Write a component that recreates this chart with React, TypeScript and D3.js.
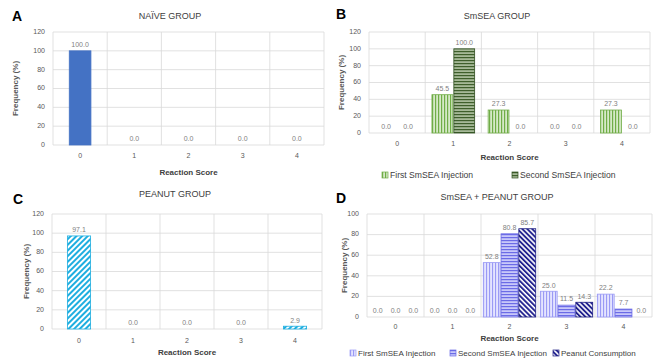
import React from 'react';
import * as d3 from 'd3';

const scores = ['0', '1', '2', '3', '4'];

const naive = [100, 0, 0, 0, 0];
const smseaFirst = [0, 45.5, 27.3, 0, 27.3];
const smseaSecond = [0, 100, 0, 0, 0];
const peanut = [97.1, 0, 0, 0, 2.9];
const comboFirst = [0, 0, 52.8, 25.0, 22.2];
const comboSecond = [0, 0, 80.8, 11.5, 7.7];
const comboPeanut = [0, 0, 85.7, 14.3, 0.0];

const ticks120 = [0, 20, 40, 60, 80, 100, 120];
const ticks100 = [0, 20, 40, 60, 80, 100];

const FONT = 'Liberation Sans, Arial, sans-serif';
const GRID = '#d9d9d9';
const LABEL = '#7f7f7f';

type Series = { name: string; values: number[]; fill: string; stroke: string };

type PanelProps = {
  letter: string;
  title: string;
  letterPos: [number, number];
  titlePos: [number, number];
  box: { x0: number; x1: number; y0: number; y1: number };
  yTicks: number[];
  yTitleX: number;
  tickY: number;
  axisTitleY: number;
  groupFrac: number;
  series: Series[];
  legendY?: number;
  legendX?: number[];
  legendFont?: number;
};

function Panel(p: PanelProps) {
  const { box } = p;
  const x = d3.scaleBand().domain(scores).range([box.x0, box.x1]).padding(0);
  const y = d3.scaleLinear().domain([0, d3.max(p.yTicks) as number]).range([box.y1, box.y0]);
  const bw = x.bandwidth();
  const inner = d3
    .scaleBand()
    .domain(p.series.map((s) => s.name))
    .range([(bw * (1 - p.groupFrac)) / 2, bw - (bw * (1 - p.groupFrac)) / 2])
    .paddingInner(p.series.length > 1 ? 0.05 : 0);
  const midY = (box.y0 + box.y1) / 2;
  return (
    <g fontFamily={FONT}>
      <text x={p.letterPos[0]} y={p.letterPos[1]} fontSize={14} fontWeight="bold" dominantBaseline="middle" fill="#000">
        {p.letter}
      </text>
      <text x={p.titlePos[0]} y={p.titlePos[1]} fontSize={9} textAnchor="middle" dominantBaseline="middle" fill="#404040">
        {p.title}
      </text>
      {p.yTicks.map((t) => (
        <g key={t}>
          <line x1={box.x0} x2={box.x1} y1={y(t)} y2={y(t)} stroke={GRID} strokeWidth={0.8} />
          <text x={box.x0 - 8} y={y(t)} fontSize={7} textAnchor="end" dominantBaseline="middle" fill="#595959">
            {t}
          </text>
        </g>
      ))}
      {[...scores.map((s) => x(s) as number), box.x1].map((v, i) => (
        <line key={i} x1={v} x2={v} y1={box.y0} y2={box.y1} stroke={GRID} strokeWidth={0.8} />
      ))}
      {scores.map((s) => (
        <text key={s} x={(x(s) as number) + bw / 2} y={p.tickY} fontSize={7} textAnchor="middle" dominantBaseline="middle" fill="#595959">
          {s}
        </text>
      ))}
      {p.series.map((se) =>
        se.values.map((v, i) => {
          const bx = (x(scores[i]) as number) + (inner(se.name) as number);
          const w = inner.bandwidth();
          return (
            <g key={se.name + i}>
              {v > 0 && (
                <rect x={bx} y={y(v)} width={w} height={box.y1 - y(v)} fill={se.fill} stroke={se.stroke} strokeWidth={0.8} />
              )}
              <text x={bx + w / 2} y={y(v) - 5.5} fontSize={7} textAnchor="middle" dominantBaseline="middle" fill={LABEL}>
                {v.toFixed(1)}
              </text>
            </g>
          );
        })
      )}
      <text x={(box.x0 + box.x1) / 2} y={p.axisTitleY} fontSize={8} fontWeight="bold" textAnchor="middle" dominantBaseline="middle" fill="#404040">
        Reaction Score
      </text>
      <text
        transform={`translate(${p.yTitleX},${midY}) rotate(-90)`}
        fontSize={8}
        fontWeight="bold"
        textAnchor="middle"
        dominantBaseline="middle"
        fill="#595959"
      >
        Frequency (%)
      </text>
      {p.legendY !== undefined &&
        p.series.map((se, i) => (
          <g key={se.name} transform={`translate(${p.legendX![i]},${p.legendY})`}>
            <rect x={0} y={-3} width={6} height={6} fill={se.fill} stroke={se.stroke} strokeWidth={0.7} />
            <text x={8} y={0.5} fontSize={p.legendFont ?? 8.6} dominantBaseline="middle" fill="#404040">
              {se.name}
            </text>
          </g>
        ))}
    </g>
  );
}

export default function App() {
  return (
    <svg width={659} height={360} style={{ position: 'absolute', left: 0, top: 0, background: '#fff' }}>
      <defs>
        <pattern id="greenV" width={3} height={3} patternUnits="userSpaceOnUse">
          <rect width={3} height={3} fill="#d6e9c8" />
          <rect width={1.2} height={3} fill="#70ad47" />
        </pattern>
        <pattern id="greenH" width={3} height={3} patternUnits="userSpaceOnUse">
          <rect width={3} height={3} fill="#a6b998" />
          <rect width={3} height={1.2} fill="#3f5f2c" />
        </pattern>
        <pattern id="cyanD" width={4} height={4} patternUnits="userSpaceOnUse" patternTransform="rotate(45)">
          <rect width={4} height={4} fill="#ffffff" />
          <rect width={2} height={4} fill="#1eaee0" />
        </pattern>
        <pattern id="lavV" width={3} height={3} patternUnits="userSpaceOnUse">
          <rect width={3} height={3} fill="#e4e4ff" />
          <rect width={1.1} height={3} fill="#9a9af5" />
        </pattern>
        <pattern id="lavH" width={3} height={3} patternUnits="userSpaceOnUse">
          <rect width={3} height={3} fill="#c8c8fa" />
          <rect width={3} height={1.2} fill="#6b6be6" />
        </pattern>
        <pattern id="navyD" width={3.5} height={3.5} patternUnits="userSpaceOnUse" patternTransform="rotate(-45)">
          <rect width={3.5} height={3.5} fill="#ffffff" />
          <rect width={1.9} height={3.5} fill="#23238f" />
        </pattern>
      </defs>
      <Panel
        letter="A"
        title="NAÏVE GROUP"
        letterPos={[12, 17]}
        titlePos={[170, 17]}
        box={{ x0: 53, x1: 324, y0: 32, y1: 145 }}
        yTicks={ticks120}
        yTitleX={16}
        tickY={156}
        axisTitleY={173}
        groupFrac={0.4}
        series={[{ name: 'Naive', values: naive, fill: '#4472c4', stroke: '#4472c4' }]}
      />
      <Panel
        letter="B"
        title="SmSEA GROUP"
        letterPos={[336, 15]}
        titlePos={[497, 17]}
        box={{ x0: 369, x1: 650, y0: 32, y1: 133 }}
        yTicks={ticks120}
        yTitleX={342}
        tickY={144}
        axisTitleY={158}
        groupFrac={0.76}
        series={[
          { name: 'First SmSEA Injection', values: smseaFirst, fill: 'url(#greenV)', stroke: '#70ad47' },
          { name: 'Second SmSEA Injection', values: smseaSecond, fill: 'url(#greenH)', stroke: '#2f4f1f' },
        ]}
        legendY={175}
        legendX={[382, 512]}
      />
      <Panel
        letter="C"
        title="PEANUT GROUP"
        letterPos={[13, 200]}
        titlePos={[175, 195]}
        box={{ x0: 52, x1: 322, y0: 214, y1: 329 }}
        yTicks={ticks120}
        yTitleX={27}
        tickY={341}
        axisTitleY={353}
        groupFrac={0.43}
        series={[{ name: 'Peanut', values: peanut, fill: 'url(#cyanD)', stroke: '#1eaee0' }]}
      />
      <Panel
        letter="D"
        title="SmSEA + PEANUT GROUP"
        letterPos={[336, 199]}
        titlePos={[497, 198]}
        box={{ x0: 367, x1: 652, y0: 214, y1: 317 }}
        yTicks={ticks100}
        yTitleX={345}
        tickY={327}
        axisTitleY={339}
        groupFrac={0.92}
        series={[
          { name: 'First SmSEA Injection', values: comboFirst, fill: 'url(#lavV)', stroke: '#9a9af5' },
          { name: 'Second SmSEA Injection', values: comboSecond, fill: 'url(#lavH)', stroke: '#6b6be6' },
          { name: 'Peanut Consumption', values: comboPeanut, fill: 'url(#navyD)', stroke: '#1a1a80' },
        ]}
        legendY={353}
        legendX={[350, 450, 553]}
        legendFont={8}
      />
    </svg>
  );
}
